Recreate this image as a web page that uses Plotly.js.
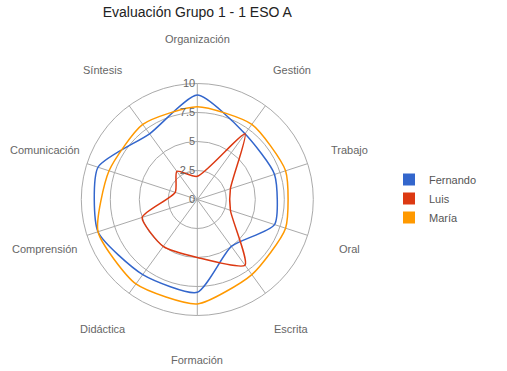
<!DOCTYPE html>
<html><head><meta charset="utf-8">
<script src="https://cdn.plot.ly/plotly-3.0.1.min.js"></script>
<style>html,body{margin:0;padding:0;background:#fff}#chart{width:507px;height:371px}</style>
</head><body><div id="chart"></div>
<script>
const categories = ['Organización','Gestión','Trabajo','Oral','Escrita','Formación','Didáctica','Comprensión','Comunicación','Síntesis'];
const seriesNames = ['Fernando','Luis','María'];
const fernando = [9,7,7,7,5,8,8,9,9,7];
const luis = [2,7,3,3,7,5,5,5,2,3];
const maria = [8,8,8,8,8,9,9,9,8,8];
const radialTicks = [0,2.5,5,7.5,10];
const radialTickText = ['0','2.5','5','7.5','10'];
const chartTitle = 'Evaluación Grupo 1 - 1 ESO A';

const colors = ['#3366cc','#dc3912','#ff9900'];
const FONT = 'Arial, "Liberation Sans", sans-serif';
const W = 507, H = 371;
const dom = {x:[81.3/W, 313.3/W], y:[1-315.5/H, 1-83.5/H]};
const cxPx = (dom.x[0]+dom.x[1])/2*W;
const cyPx = (1-(dom.y[0]+dom.y[1])/2)*H;
const Rpx = (dom.x[1]-dom.x[0])*W/2;
const labelR = Rpx*1.384;

const series = [fernando, luis, maria];
const traces = [];
series.forEach((vals, k) => {
  traces.push({
    type:'scatterpolar', mode:'lines',
    r: vals.concat([vals[0]]), theta: categories.concat([categories[0]]),
    line:{color:colors[k], width:1.5, shape:'spline', smoothing:0.6}, showlegend:false, hoverinfo:'skip'
  });
});
// legend-only placeholders (square swatches)
series.forEach((vals, k) => {
  traces.push({type:'scatterpolar', mode:'markers', r:[null], theta:[null], name:seriesNames[k],
    marker:{color:colors[k], symbol:'square', size:12, line:{width:0}}, showlegend:true, hoverinfo:'skip'});
});

const annotations = categories.map((c,i) => {
  const a = i*2*Math.PI/categories.length;
  return {xref:'paper', yref:'paper', showarrow:false, text:c,
    x:(cxPx+labelR*Math.sin(a))/W, y:1-(cyPx-labelR*Math.cos(a))/H,
    xanchor:'center', yanchor:'middle', font:{family:FONT, size:11, color:'#666'}};
});

const layout = {
  width:W, height:H, margin:{l:0,r:0,t:0,b:0}, paper_bgcolor:'#fff',
  font:{family:FONT, size:11, color:'#666'},
  title:{text:chartTitle, x:cxPx/W, xanchor:'center', y:1-12.5/H, yanchor:'middle',
    font:{family:FONT, size:14, color:'#222'}},
  polar:{
    domain:dom, bgcolor:'#fff', hole:0,
    angularaxis:{type:'category', categoryarray:categories, direction:'clockwise', rotation:90,
      showticklabels:false, ticks:'', gridcolor:'#aaa', gridwidth:1, linecolor:'#aaa', linewidth:1, showline:true},
    radialaxis:{range:[0,10], tickvals:radialTicks, ticktext:radialTickText, angle:90, tickangle:90,
      side:'counterclockwise', showline:false, ticks:'', gridcolor:'#aaa', gridwidth:1,
      tickfont:{family:FONT, size:11, color:'#666'}}
  },
  legend:{x:389/W, xanchor:'left', y:1-165/H, yanchor:'top', bgcolor:'rgba(0,0,0,0)',
    font:{family:FONT, size:11, color:'#555'}},
  annotations:annotations
};
Plotly.newPlot('chart', traces, layout, {displayModeBar:false, staticPlot:true});
</script></body></html>
